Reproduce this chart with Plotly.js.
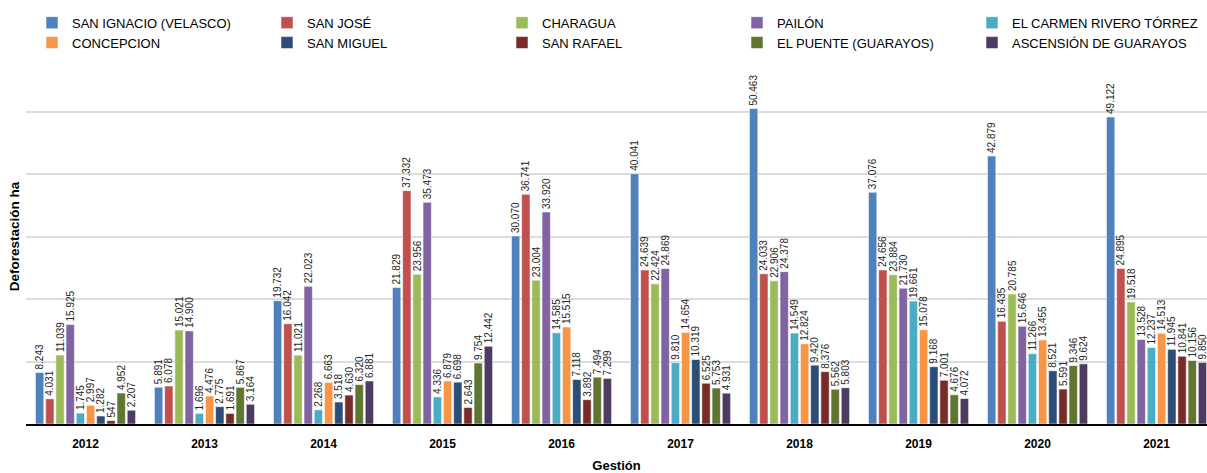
<!DOCTYPE html>
<html>
<head>
<meta charset="utf-8">
<script src="https://cdn.plot.ly/plotly-3.0.1.min.js"></script>
<style>html,body{margin:0;padding:0;background:#fff;}#chart{width:1207px;height:473px;}</style>
</head>
<body>
<div id="chart"></div>
<script>
const years = ['2012','2013','2014','2015','2016','2017','2018','2019','2020','2021'];

const sanIgnacio = [8243, 5891, 19732, 21829, 30070, 40041, 50463, 37076, 42879, 49122];
const sanJose    = [4031, 6078, 16042, 37332, 36741, 24639, 24033, 24656, 16435, 24895];
const charagua   = [11039, 15021, 11021, 23956, 23004, 22424, 22906, 23884, 20785, 19518];
const pailon     = [15925, 14900, 22023, 35473, 33920, 24869, 24378, 21730, 15646, 13528];
const elCarmen   = [1745, 1696, 2268, 4336, 14585, 9810, 14549, 19661, 11266, 12237];
const concepcion = [2997, 4476, 6663, 6879, 15515, 14654, 12824, 15078, 13455, 14513];
const sanMiguel  = [1282, 2775, 3518, 6698, 7118, 10319, 9420, 9168, 8521, 11945];
const sanRafael  = [547, 1691, 4630, 2643, 3892, 6525, 8376, 7001, 5591, 10841];
const elPuente   = [4952, 5867, 6320, 9754, 7494, 5753, 5562, 4676, 9346, 10156];
const ascension  = [2207, 3164, 6881, 12442, 7299, 4931, 5803, 4072, 9624, 9850];

const seriesNames = ['SAN IGNACIO (VELASCO)','SAN JOSÉ','CHARAGUA','PAILÓN','EL CARMEN RIVERO TÓRREZ',
                     'CONCEPCION','SAN MIGUEL','SAN RAFAEL','EL PUENTE (GUARAYOS)','ASCENSIÓN DE GUARAYOS'];
const seriesValues = [sanIgnacio, sanJose, charagua, pailon, elCarmen, concepcion, sanMiguel, sanRafael, elPuente, ascension];
const seriesColors = ['#4F81BD','#C0504D','#9BBB59','#8064A2','#4BACC6','#F79646','#2C4D75','#772C2A','#5F7530','#4D3B62'];

const FONT = '"Liberation Sans", Arial, sans-serif';

const traces = seriesNames.map((name, i) => ({
  type: 'bar',
  name: name,
  x: years,
  y: seriesValues[i],
  marker: {color: seriesColors[i], line: {color: 'rgba(255,255,255,0.55)', width: 1}},
  texttemplate: '%{y:,.0f}',
  textposition: 'outside',
  textangle: -90,
  constraintext: 'none',
  cliponaxis: false,
  textfont: {family: FONT, size: 10, color: '#262626'},
  hoverinfo: 'skip'
}));

const layout = {
  width: 1207,
  height: 473,
  margin: {l: 26, r: 0, t: 49, b: 49},
  paper_bgcolor: '#ffffff',
  plot_bgcolor: '#ffffff',
  separators: ',.',
  barmode: 'group',
  bargap: 0.143,
  bargroupgap: 0.18,
  showlegend: true,
  legend: {
    orientation: 'h',
    x: 0.008, xanchor: 'left',
    y: 1.11, yanchor: 'top',
    entrywidth: 190,
    entrywidthmode: 'pixels',
    traceorder: 'normal',
    font: {family: FONT, size: 13, color: '#000'},
    itemwidth: 30,
    bgcolor: 'rgba(0,0,0,0)'
  },
  xaxis: {
    type: 'category',
    range: [-0.5, 9.424],
    showline: true,
    linecolor: '#000',
    linewidth: 1.5,
    ticks: '',
    showgrid: false,
    ticklabelstandoff: 8,
    tickfont: {family: FONT, size: 12, color: '#000', weight: 'bold'},
    title: {text: 'Gestión', font: {family: FONT, size: 13, color: '#000', weight: 'bold'}, standoff: 12}
  },
  yaxis: {
    range: [0, 60000],
    dtick: 10000,
    showticklabels: false,
    ticks: '',
    showgrid: true,
    gridcolor: '#dcdcdc',
    gridwidth: 2,
    zeroline: false,
    showline: false,
    title: {text: 'Deforestación ha', font: {family: FONT, size: 13.5, color: '#000', weight: 'bold'}, standoff: 2}
  },
  hovermode: false
};

Plotly.newPlot('chart', traces, layout, {displayModeBar: false, staticPlot: true});
</script>
</body>
</html>
